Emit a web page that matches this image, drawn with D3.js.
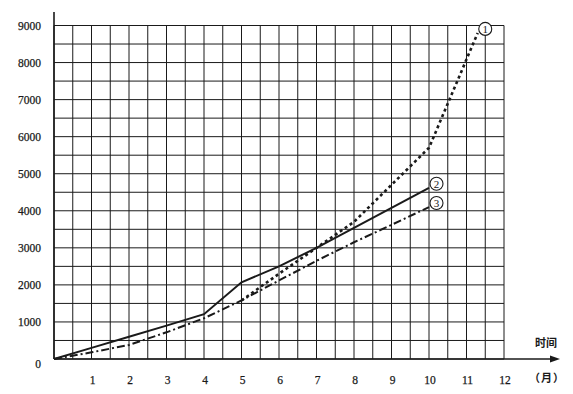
<!DOCTYPE html>
<html>
<head>
<meta charset="utf-8">
<script src="https://cdn.jsdelivr.net/npm/d3@7"></script>
<style>
  body { margin: 0; background: #fff; }
</style>
</head>
<body>
<div id="chart"></div>
<script>
// data
const months = [0, 1, 2, 3, 4, 5, 6, 7, 8, 9, 10];
const line1Months = [5, 6, 7, 8, 9, 10, 11.3];
const line1Values = [1580, 2300, 3000, 3700, 4700, 5700, 8800];
const line2Values = [0, 300, 600, 900, 1210, 2070, 2500, 3000, 3540, 4080, 4620];
const line3Values = [0, 180, 380, 720, 1100, 1580, 2120, 2650, 3150, 3620, 4100];
const xTicks = [1, 2, 3, 4, 5, 6, 7, 8, 9, 10, 11, 12];
const yTicks = [0, 1000, 2000, 3000, 4000, 5000, 6000, 7000, 8000, 9000];
const seriesLabels = ["1", "2", "3"];

const width = 573, height = 394;

const x = d3.scaleLinear().domain([0, 12]).range([54, 504]);
const y = d3.scaleLinear().domain([0, 9000]).range([359, 25.5]);

const svg = d3.select("#chart")
  .append("svg")
  .attr("width", width)
  .attr("height", height);

const ink = "#1a1a1a";
const serif = "'Liberation Serif', 'DejaVu Serif', serif";

// grid, every half month and every 500
const gx = d3.range(0, 12.01, 0.5);
const gy = d3.range(0, 9001, 500);

svg.append("g").selectAll("line").data(gx).enter()
  .append("line")
  .attr("x1", d => x(d)).attr("x2", d => x(d))
  .attr("y1", y(0)).attr("y2", y(9000))
  .attr("stroke", ink).attr("stroke-width", 1);

svg.append("g").selectAll("line").data(gy).enter()
  .append("line")
  .attr("x1", x(0)).attr("x2", x(12))
  .attr("y1", d => y(d)).attr("y2", d => y(d))
  .attr("stroke", ink).attr("stroke-width", 1);

// axes
svg.append("line")
  .attr("x1", x(0)).attr("x2", x(0))
  .attr("y1", y(0)).attr("y2", 12)
  .attr("stroke", ink).attr("stroke-width", 1.6);

svg.append("line")
  .attr("x1", x(0)).attr("x2", 552)
  .attr("y1", y(0)).attr("y2", y(0))
  .attr("stroke", ink).attr("stroke-width", 1.6);

svg.append("path")
  .attr("d", `M560,${y(0)} L550,${y(0) - 3.5} L550,${y(0) + 3.5} Z`)
  .attr("fill", ink);

// tick labels
svg.append("g").selectAll("text").data(yTicks).enter()
  .append("text")
  .attr("x", 41)
  .attr("y", d => y(d) + (d === 0 ? 9 : 4))
  .attr("text-anchor", "end")
  .attr("font-family", serif)
  .attr("font-size", 11.5)
  .attr("fill", ink)
  .attr("stroke", ink).attr("stroke-width", 0.25)
  .text(d => d);

svg.append("g").selectAll("text").data(xTicks).enter()
  .append("text")
  .attr("x", d => x(d) + 1)
  .attr("y", 384)
  .attr("text-anchor", "middle")
  .attr("font-family", serif)
  .attr("font-size", 11.5)
  .attr("fill", ink)
  .attr("stroke", ink).attr("stroke-width", 0.25)
  .text(d => d);

svg.append("text")
  .attr("x", 546).attr("y", 347)
  .attr("text-anchor", "middle")
  .attr("font-family", "'Noto Sans CJK SC', sans-serif")
  .attr("font-weight", "bold")
  .attr("font-size", 11)
  .attr("fill", ink)
  .text("时间");

svg.append("text")
  .attr("x", 547).attr("y", 382)
  .attr("text-anchor", "middle")
  .attr("font-family", "'Noto Sans CJK SC', sans-serif")
  .attr("font-weight", "bold")
  .attr("font-size", 11)
  .attr("letter-spacing", 1)
  .attr("fill", ink)
  .text("（月）");

// lines
const line = d3.line().x(d => x(d[0])).y(d => y(d[1]));

const data1 = line1Months.map((m, i) => [m, line1Values[i]]);
const data2 = months.map((m, i) => [m, line2Values[i]]);
const data3 = months.map((m, i) => [m, line3Values[i]]);

svg.append("path")
  .attr("d", line(data3))
  .attr("fill", "none")
  .attr("stroke", ink)
  .attr("stroke-width", 2)
  .attr("stroke-dasharray", "8,3,2,3");

svg.append("path")
  .attr("d", line(data1))
  .attr("fill", "none")
  .attr("stroke", ink)
  .attr("stroke-width", 2.6)
  .attr("stroke-dasharray", "3,3");

svg.append("path")
  .attr("d", line(data2))
  .attr("fill", "none")
  .attr("stroke", ink)
  .attr("stroke-width", 2);

// circled series numbers at the line ends
const ends = [data1[data1.length - 1], data2[data2.length - 1], data3[data3.length - 1]];
const lab = svg.append("g").selectAll("g").data(ends).enter()
  .append("g")
  .attr("transform", d => `translate(${x(d[0]) + 7.5},${y(d[1]) - 4})`);

lab.append("circle")
  .attr("r", 6.5)
  .attr("fill", "#fff")
  .attr("stroke", ink)
  .attr("stroke-width", 1.1);

lab.append("text")
  .attr("y", 4)
  .attr("text-anchor", "middle")
  .attr("font-family", serif)
  .attr("font-size", 11)
  .attr("fill", ink)
  .text((d, i) => seriesLabels[i]);
</script>
</body>
</html>
